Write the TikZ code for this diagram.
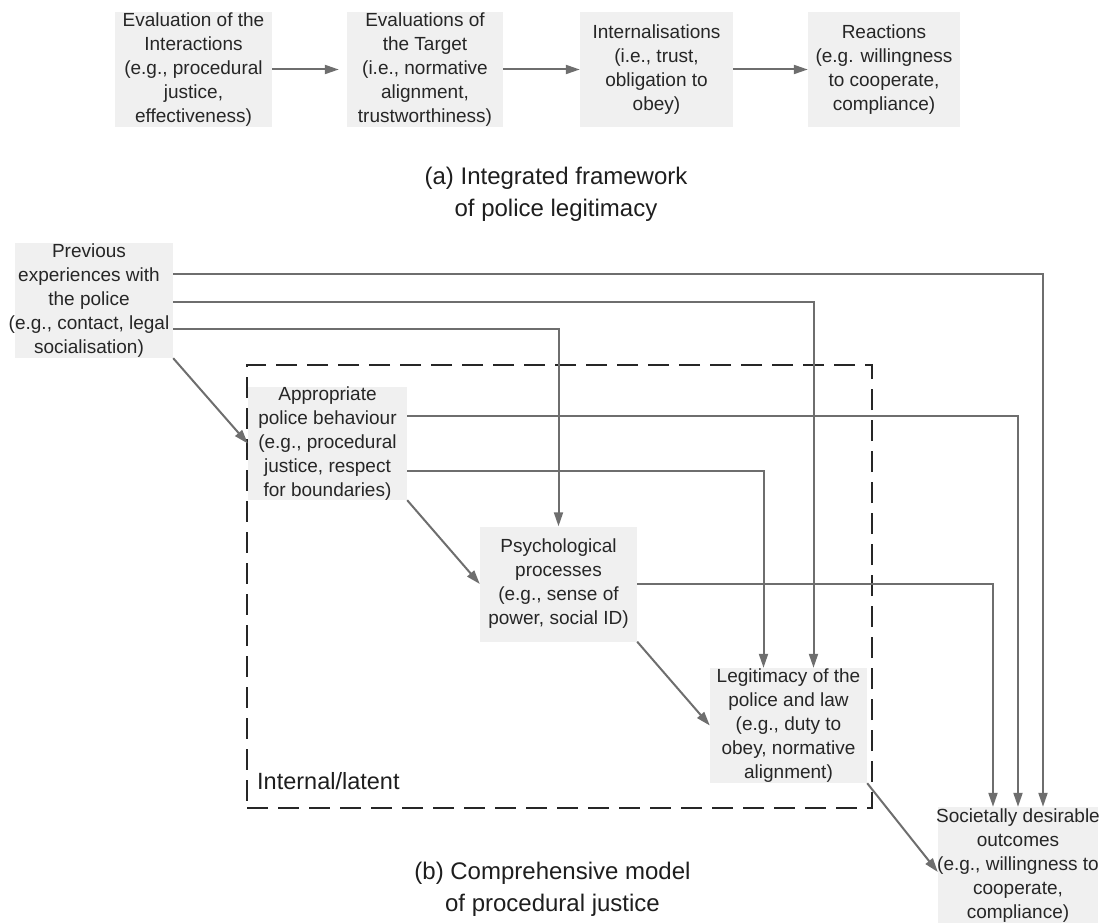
\documentclass[tikz,border=0pt]{standalone}
\usepackage{fontspec}
\setmainfont{Liberation Sans}
\usetikzlibrary{arrows.meta}
\definecolor{boxfill}{HTML}{F0F0F0}
\definecolor{txtcol}{HTML}{262626}
\definecolor{linecol}{HTML}{6E6E6E}
\definecolor{dashcol}{HTML}{262626}
\definecolor{capcol}{HTML}{1E1E1E}
\tikzset{
  boxnode/.style={fill=boxfill, draw=none, inner sep=0pt, minimum width=157pt, minimum height=115pt},
  txt/.style={text=txtcol, align=center, font=\fontsize{19}{24}\selectfont, inner sep=0pt},
  conn/.style={draw=linecol, line width=2pt, -{Triangle[length=14pt,width=9pt]}},
  latentbox/.style={draw=dashcol, line width=2pt, dash pattern=on 21pt off 10pt, inner sep=0pt},
  captext/.style={text=capcol, align=center, font=\fontsize{24}{32}\selectfont, inner sep=0pt},
}
\begin{document}
\begin{tikzpicture}[x=1pt,y=-1pt]
\useasboundingbox (0,0) rectangle (1109,923);

% ---------- (a) ----------
\node[boxnode] (t1) at (193.5,69.5) {};
\node[txt] (t1t) at (193.5,70) {Evaluation of the\\Interactions\\(e.g., procedural\\justice,\\effectiveness)};
\node[boxnode, minimum width=156pt] (t2) at (425,69.5) {};
\node[txt] (t2t) at (425,70) {Evaluations of\\the Target\\(i.e., normative\\alignment,\\trustworthiness)};
\node[boxnode, minimum width=153pt] (t3) at (656.5,69.5) {};
\node[txt] (t3t) at (t3) {Internalisations\\(i.e., trust,\\obligation to\\obey)};
\node[boxnode, minimum width=152pt] (t4) at (884,69.5) {};
\node[txt] (t4t) at (t4) {Reactions\\(e.g. willingness\\to cooperate,\\compliance)};

\draw[conn, shorten >=8pt] (t1.east) -- (t2.west);
\draw[conn] (t2.east) -- (t3.west);
\draw[conn] (t3.east) -- (t4.west);

\node[captext] (capa) at (556,194) {(a) Integrated framework\\of police legitimacy};

% ---------- (b) ----------
\node[latentbox, minimum width=625pt, minimum height=443pt] (latent) at (559.5,586.5) {};
\node[captext, anchor=west, font=\fontsize{23.5}{28}\selectfont] (latentlbl) at (257,781) {Internal/latent};

\node[boxnode, minimum width=158pt] (prev) at (94,300.5) {};
\node[txt] (prevt) at (89,301) {Previous\\experiences with\\the police\\(e.g., contact, legal\\socialisation)};
\node[boxnode, minimum width=159pt, minimum height=113pt] (app) at (327.5,443.5) {};
\node[txt] (appt) at (app) {Appropriate\\police behaviour\\(e.g., procedural\\justice, respect\\for boundaries)};
\node[boxnode] (psy) at (558.5,584) {};
\node[txt] (psyt) at (psy) {Psychological\\processes\\(e.g., sense of\\power, social ID)};
\node[boxnode] (leg) at (788.5,725.5) {};
\node[txt] (legt) at (leg) {Legitimacy of the\\police and law\\(e.g., duty to\\obey, normative\\alignment)};
\node[boxnode, minimum width=160pt, minimum height=118pt] (soc) at (1018,866) {};
\node[txt] (soct) at (1018,866) {Societally desirable\\outcomes\\(e.g., willingness to\\cooperate,\\compliance)};

% orthogonal connectors
\draw[conn] ([yshift=27pt]prev.east) -| ([xshift=25pt]soc.north);
\draw[conn] ([yshift=-1pt]prev.east) -| ([xshift=25pt]leg.north);
\draw[conn] ([yshift=-28pt]prev.east) -| (psy.north);
\draw[conn] ([yshift=28pt]app.east) -| (soc.north);
\draw[conn] ([yshift=-27pt]app.east) -| ([xshift=-25pt]leg.north);
\draw[conn] (psy.east) -| ([xshift=-25pt]soc.north);

% diagonal connectors
\draw[conn] (prev.south east) -- (app.west);
\draw[conn] (app.south east) -- (psy.west);
\draw[conn] (psy.south east) -- (leg.west);
\draw[conn] (leg.south east) -- ([yshift=-6pt]soc.west);

\node[captext] (capb) at (552.5,889) {(b) Comprehensive model\\of procedural justice};
\end{tikzpicture}
\end{document}
